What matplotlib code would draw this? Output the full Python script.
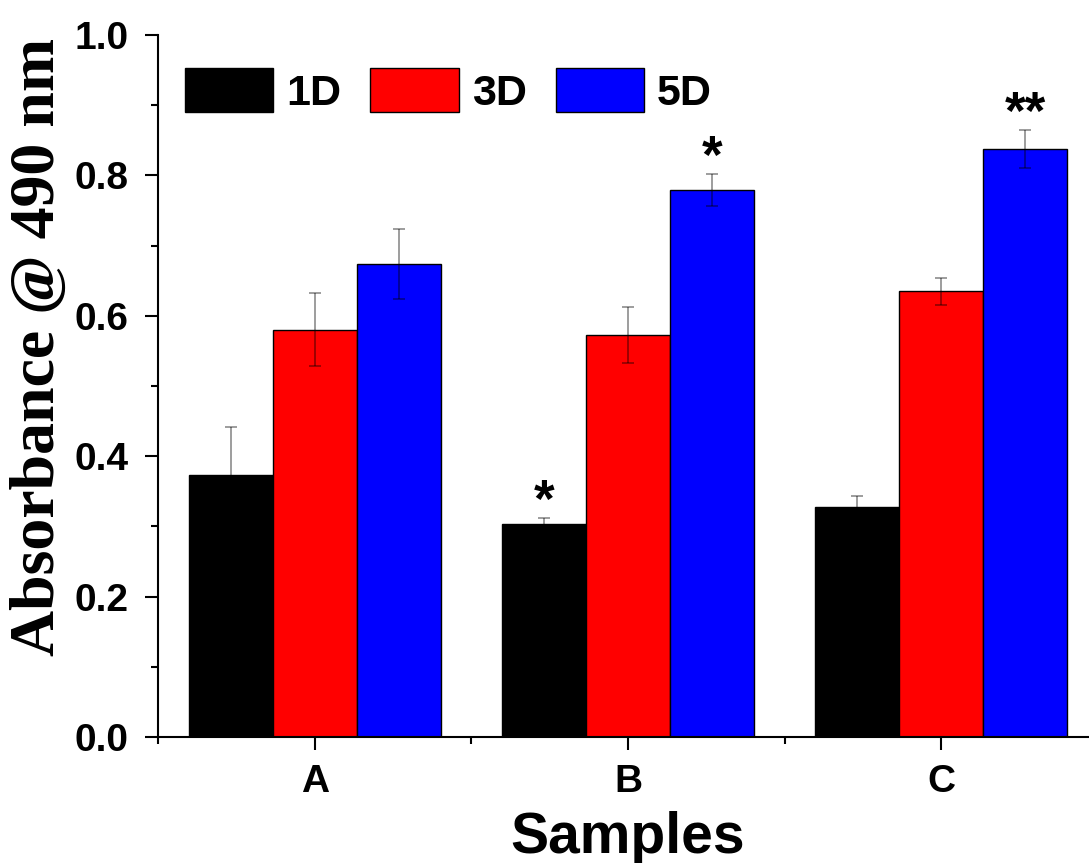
import numpy as np
import matplotlib
matplotlib.use("Agg")
import matplotlib.pyplot as plt
from matplotlib.ticker import MultipleLocator

# data
samples = ["A", "B", "C"]
days = ["1D", "3D", "5D"]
colors = ["#000000", "#ff0000", "#0000ff"]
vals_1d = [0.373, 0.303, 0.328]
vals_3d = [0.580, 0.573, 0.635]
vals_5d = [0.674, 0.779, 0.838]
err_1d = [0.068, 0.009, 0.016]
err_3d = [0.052, 0.040, 0.019]
err_5d = [0.050, 0.023, 0.027]
stars_1d = ["", "*", ""]
stars_3d = ["", "", ""]
stars_5d = ["", "*", "**"]

plt.rcParams['font.family'] = ['Liberation Sans', 'DejaVu Sans']
plt.rcParams['font.weight'] = 'bold'

fig = plt.figure(figsize=(10.89, 8.63), dpi=100)
ax = fig.add_axes([158 / 1089, 1 - 737 / 863, 940 / 1089, 702 / 863])

x = np.arange(1, len(samples) + 1)
w = 0.268
series = [(vals_1d, err_1d, stars_1d), (vals_3d, err_3d, stars_3d), (vals_5d, err_5d, stars_5d)]
for i, (v, e, st) in enumerate(series):
    xs = x + (i - 1) * w
    ax.bar(xs, v, w, color=colors[i], edgecolor='black', linewidth=1, label=days[i], zorder=2)
    ax.errorbar(xs, v, yerr=e, fmt='none', ecolor='black', alpha=0.45,
                elinewidth=1.2, capsize=4.5, capthick=1.2, zorder=3)
    for xi, vi, ei, s in zip(xs, v, e, st):
        if s:
            ax.annotate(s, (xi, vi + ei), xytext=(0, -7), textcoords='offset points',
                        ha='center', va='bottom', fontsize=38, fontweight='bold')

ax.set_xlim(0.5, 3.5)
ax.set_ylim(0, 1.0)
ax.set_xticks(x)
ax.set_xticklabels(samples)
ax.xaxis.set_minor_locator(matplotlib.ticker.FixedLocator([0.5, 1.5, 2.5, 3.5]))
ax.yaxis.set_major_locator(MultipleLocator(0.2))
ax.yaxis.set_minor_locator(MultipleLocator(0.1))
ax.yaxis.set_major_formatter(matplotlib.ticker.FormatStrFormatter('%.1f'))

for s in ['top', 'right']:
    ax.spines[s].set_visible(False)
for s in ['left', 'bottom']:
    ax.spines[s].set_linewidth(1.5)

ax.tick_params(axis='both', which='major', length=9.4, width=1.5, labelsize=28)
ax.tick_params(axis='both', which='minor', length=5, width=1.5)
ax.tick_params(axis='y', which='major', pad=12)
ax.tick_params(axis='x', which='major', pad=10)

ax.set_xlabel("Samples", fontsize=41, fontweight='bold')
ax.xaxis.set_label_coords(0.5, -0.105)
ax.set_ylabel("Absorbance @ 490 nm", fontsize=46, fontweight='bold',
              family=['Liberation Serif', 'DejaVu Serif'])
ax.yaxis.set_label_coords(-0.096, 0.556)

ax.legend(loc='upper left', bbox_to_anchor=(27 / 940, 0.953), ncol=3, frameon=False,
          fontsize=31, handlelength=2.05, handleheight=1.2, handletextpad=0.3,
          columnspacing=0.68, borderpad=0, borderaxespad=0)

fig.savefig("out.png", dpi=100)
